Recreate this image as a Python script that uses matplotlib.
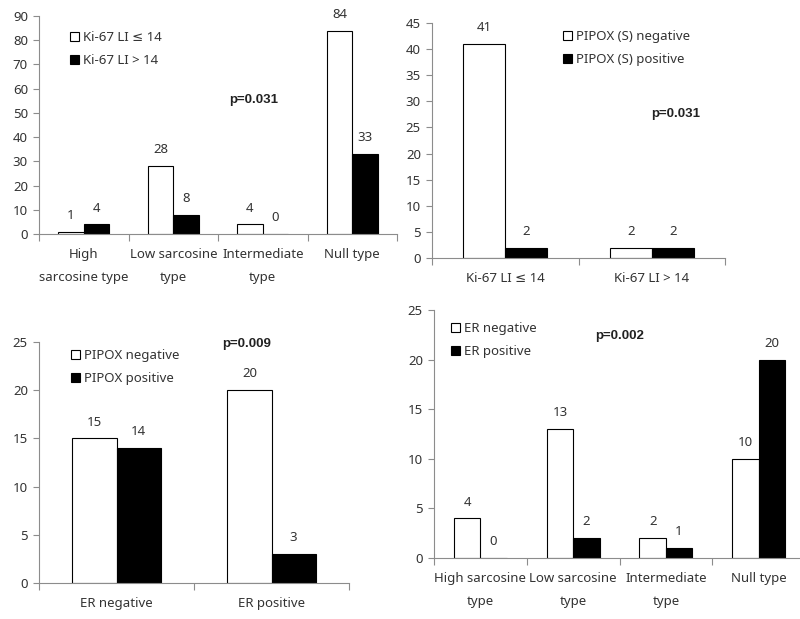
import numpy as np
import matplotlib
matplotlib.use("Agg")
import matplotlib.pyplot as plt

# =============================================================================
# DATA
# =============================================================================
types_a = ["High\nsarcosine type", "Low sarcosine\ntype", "Intermediate\ntype", "Null type"]
ki67_low = [1, 28, 4, 84]
ki67_high = [4, 8, 0, 33]

ki67_cats = ["Ki-67 LI \u2264 14", "Ki-67 LI > 14"]
pipox_s_neg = [41, 2]
pipox_s_pos = [2, 2]

er_cats = ["ER negative", "ER positive"]
pipox_neg = [15, 20]
pipox_pos = [14, 3]

types_b = ["High sarcosine\ntype", "Low sarcosine\ntype", "Intermediate\ntype", "Null type"]
er_neg = [4, 13, 2, 10]
er_pos = [0, 2, 1, 20]

plt.rcParams['font.family'] = ['Noto Sans', 'DejaVu Sans']
TXT = '#333333'
AX = '#8c8c8c'
FS = 9.5

fig = plt.figure(figsize=(8, 6.19), dpi=100)


def panel(rect, cats, s1, s2, names, ymax, ystep, leg_xy, p_text, p_xy):
    ax = fig.add_axes(rect)
    x = np.arange(len(cats))
    w = 0.285
    b1 = ax.bar(x - w / 2, s1, w, color='white', edgecolor='black', linewidth=0.8, label=names[0])
    b2 = ax.bar(x + w / 2, s2, w, color='black', edgecolor='black', linewidth=0.8, label=names[1])
    for bars, vals in ((b1, s1), (b2, s2)):
        for b, v in zip(bars, vals):
            ax.annotate(str(v), (b.get_x() + b.get_width() / 2, v), xytext=(0, 7),
                        textcoords='offset points', ha='center', va='bottom',
                        fontsize=FS, color=TXT)
    ax.set_xlim(-0.5, len(cats) - 0.5)
    ax.set_ylim(0, ymax)
    ax.set_yticks(np.arange(0, ymax + 0.1, ystep))
    ax.set_xticks(x)
    ax.set_xticklabels(cats, linespacing=2.0)
    ax.set_xticks(np.arange(-0.5, len(cats)), minor=True)
    ax.tick_params(axis='x', which='major', length=0, pad=10, labelsize=FS, labelcolor=TXT)
    ax.tick_params(axis='x', which='minor', length=5, color=AX, width=0.8)
    ax.tick_params(axis='y', length=4, color=AX, width=0.8, labelsize=FS, labelcolor=TXT, pad=4)
    for s in ('top', 'right'):
        ax.spines[s].set_visible(False)
    for s in ('left', 'bottom'):
        ax.spines[s].set_color(AX)
        ax.spines[s].set_linewidth(0.8)
    ax.legend(loc='upper left', bbox_to_anchor=leg_xy, frameon=False, fontsize=FS,
              handlelength=0.7, handleheight=0.7, handletextpad=0.3, labelspacing=0.75,
              borderpad=0, borderaxespad=0, labelcolor=TXT)
    ax.text(p_xy[0], p_xy[1], p_text, transform=ax.transAxes, ha='center', va='center',
            fontsize=9.5, fontweight='bold', color='#222222', family='Liberation Sans')
    return ax


panel([39 / 800, 1 - 234 / 619, 358 / 800, 218 / 619], types_a, ki67_low, ki67_high,
      ["Ki-67 LI \u2264 14", "Ki-67 LI > 14"], 90, 10, (0.087, 0.93), "p=0.031", (0.60, 0.615))

panel([432 / 800, 1 - 258 / 619, 293 / 800, 235 / 619], ki67_cats, pipox_s_neg, pipox_s_pos,
      ["PIPOX (S) negative", "PIPOX (S) positive"], 45, 5, (0.447, 0.97), "p=0.031", (0.833, 0.613))

panel([39 / 800, 1 - 583 / 619, 310 / 800, 241 / 619], er_cats, pipox_neg, pipox_pos,
      ["PIPOX negative", "PIPOX positive"], 25, 5, (0.103, 0.97), "p=0.009", (0.671, 0.99))

panel([434 / 800, 1 - 558 / 619, 371 / 800, 248 / 619], types_b, er_neg, er_pos,
      ["ER negative", "ER positive"], 25, 5, (0.046, 0.95), "p=0.002", (0.499, 0.895))

fig.savefig("out.png", dpi=100, facecolor='white')
